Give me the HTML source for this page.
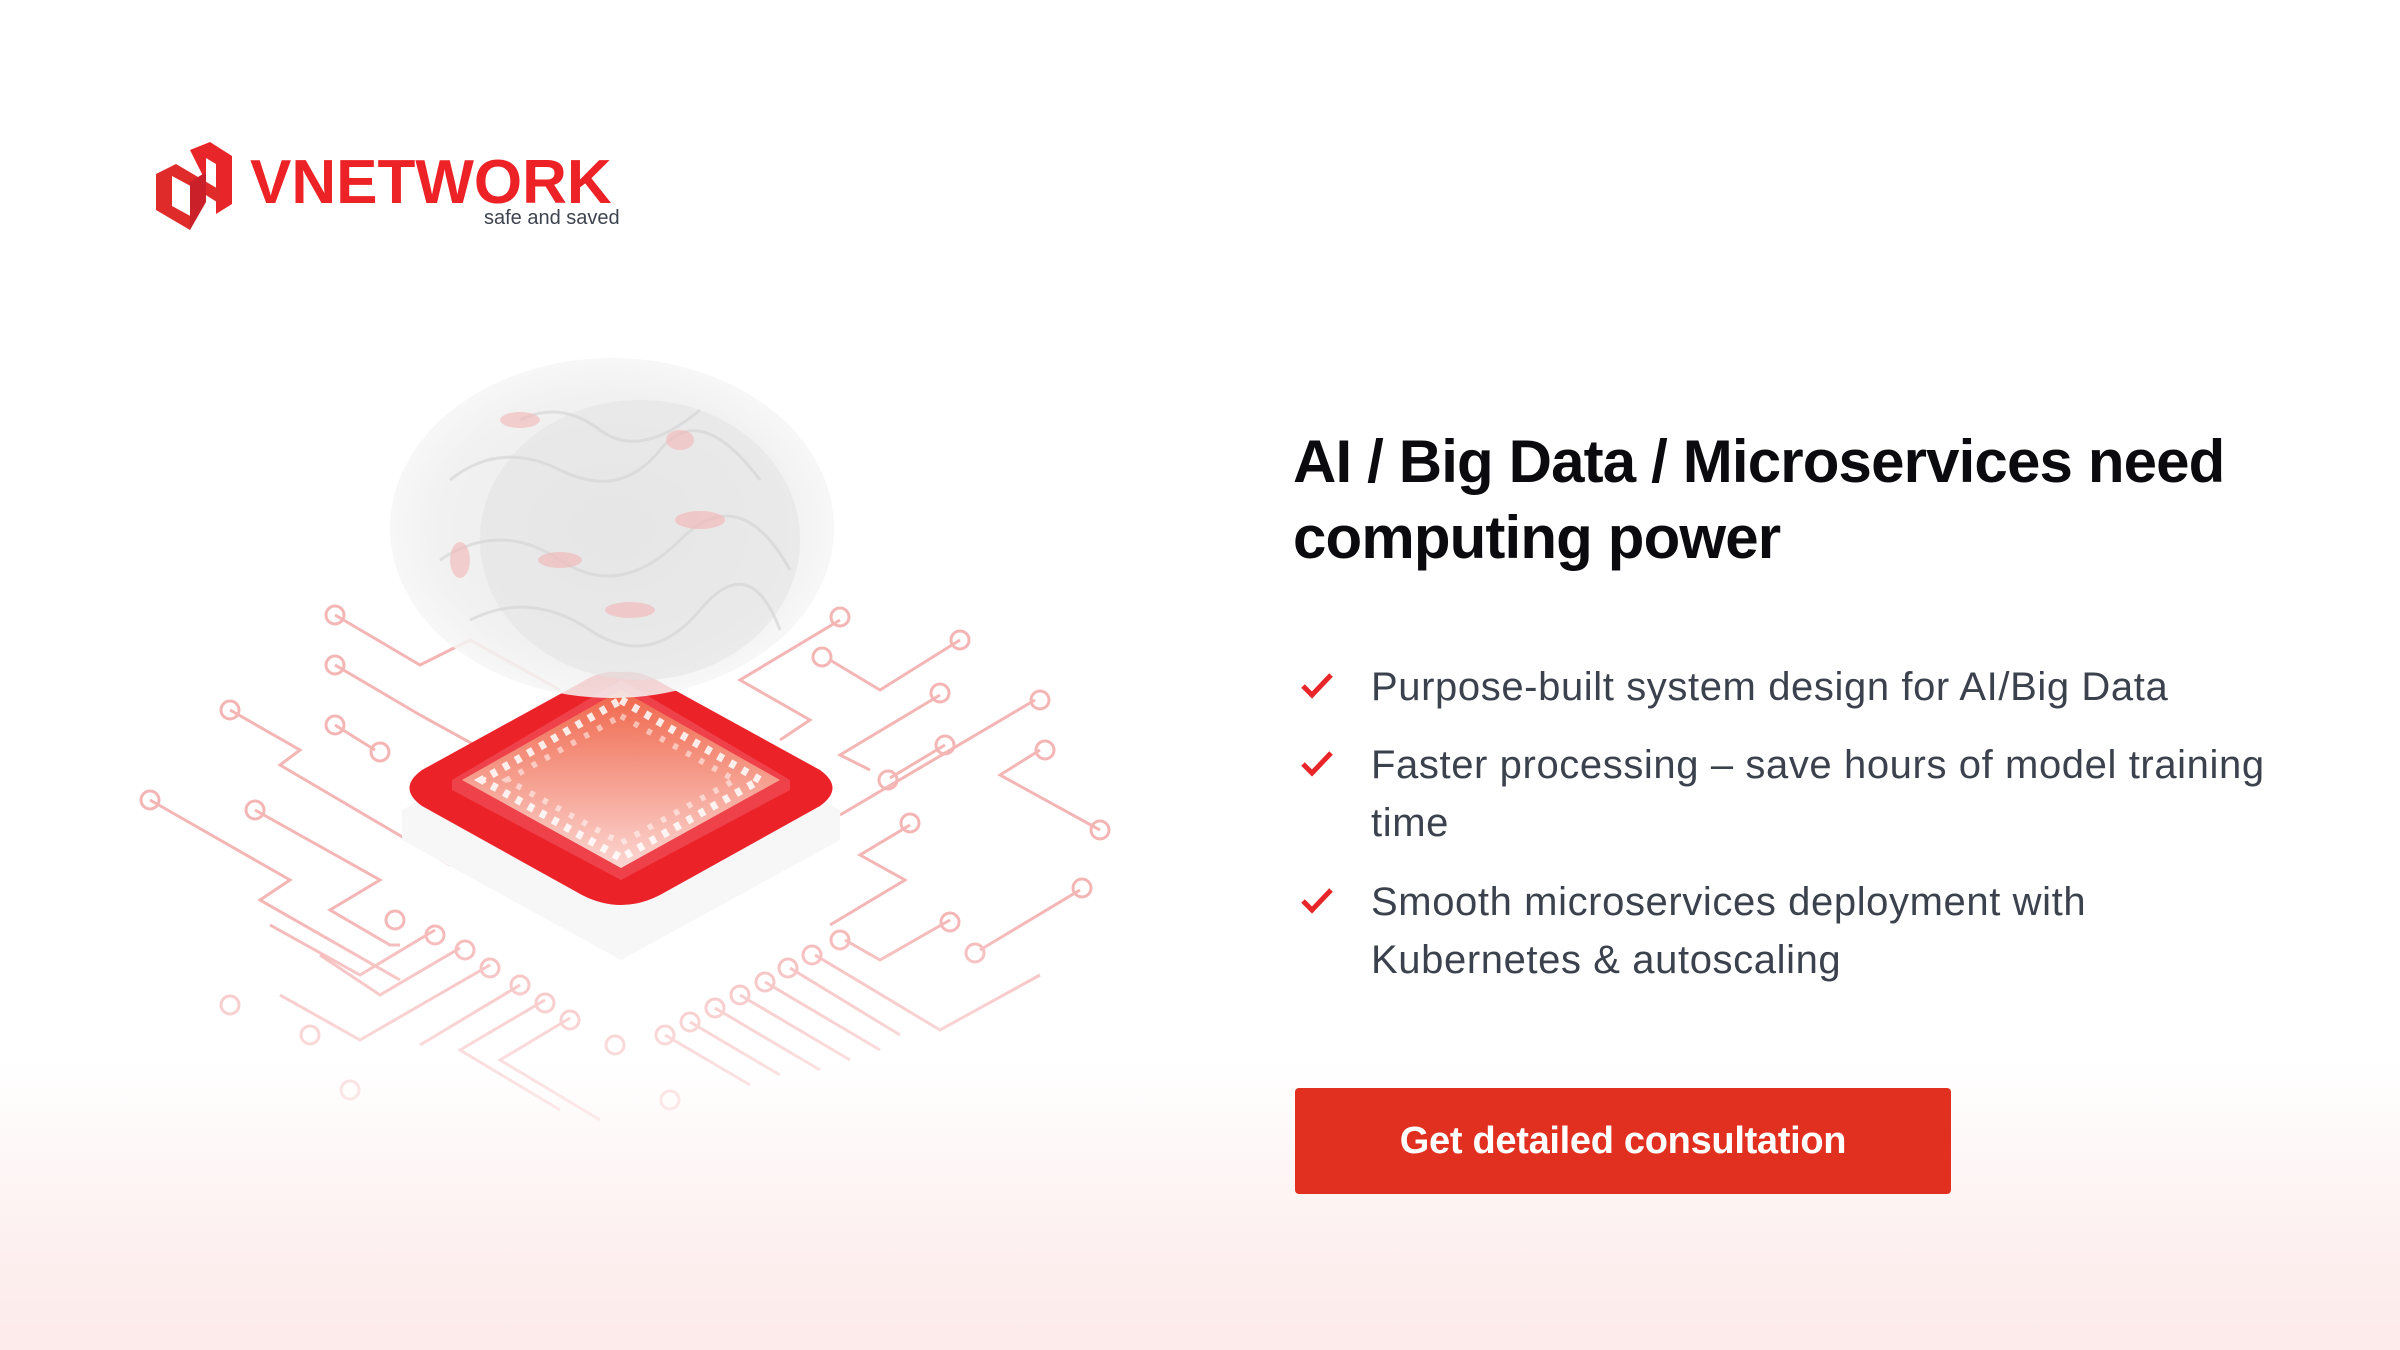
<!DOCTYPE html>
<html><head><meta charset="utf-8"><style>
html,body{margin:0;padding:0}
body{width:2400px;height:1350px;overflow:hidden;position:relative;font-family:"Liberation Sans",sans-serif;background:linear-gradient(180deg,#fff 0px,#fff 1060px,#fdf0f0 1240px,#fdeaea 1350px)}
.abs{position:absolute}
h1{position:absolute;left:1293px;top:424px;margin:0;font-size:60px;line-height:76px;font-weight:bold;color:#0b0b0f;letter-spacing:-0.85px;width:1100px}
.li{position:absolute;left:1371px;font-size:40px;line-height:58px;color:#3b414d;letter-spacing:0.6px;width:960px}
.ck{position:absolute;left:1300px}
.btn{position:absolute;left:1295px;top:1088px;width:656px;height:106px;background:#e1301f;border-radius:4px;color:#fff;font-weight:bold;font-size:38px;line-height:106px;text-align:center;letter-spacing:-0.3px}
</style></head><body>
<!-- logo -->
<svg class="abs" style="left:150px;top:142px" width="90" height="88" viewBox="0 0 90 88">
<path d="M40 8 L60 0 L82 14 L82 62 L66 72 L66 22 L56 16 L56 40 Z" fill="#e8262a"/>
<path d="M6 32 L26 22 L70 48 L70 62 L48 48 L22 34 L22 64 L44 76 L40 88 L6 68 Z" fill="#e02b2b"/>
<path d="M40 40 L56 30 L56 60 L40 88 Z" fill="#c9202a"/>
</svg>
<div class="abs" style="left:250px;top:150px;font-size:62px;font-weight:bold;color:#ec2227;letter-spacing:0px;line-height:66px">VNETWORK</div>
<div class="abs" style="left:484px;top:206px;font-size:20px;color:#3d4450;line-height:24px">safe and saved</div>

<!-- illustration -->
<svg class="abs" style="left:0;top:300px" width="1200" height="880" viewBox="0 300 1200 880">
<defs>
<linearGradient id="fadeg" x1="0" y1="0" x2="0" y2="1"><stop offset="0" stop-color="#fff"/><stop offset="0.7" stop-color="#fff"/><stop offset="1" stop-color="#fff" stop-opacity="0"/></linearGradient>
<mask id="fm" maskUnits="userSpaceOnUse" x="0" y="300" width="1200" height="880"><rect x="0" y="300" width="1200" height="880" fill="url(#fadeg)"/></mask>
<linearGradient id="top" x1="0" y1="0" x2="0" y2="1"><stop offset="0" stop-color="#f0664a"/><stop offset="1" stop-color="#fbd6d2"/></linearGradient>
<radialGradient id="brain" cx="0.5" cy="0.5" r="0.5"><stop offset="0" stop-color="#e6e6e6"/><stop offset="0.8" stop-color="#efefef"/><stop offset="1" stop-color="#f6f6f6"/></radialGradient>
</defs>
<g stroke="#f3a9a9" stroke-width="3" fill="none" opacity="0.85" mask="url(#fm)">
<path d="M335 615 L420 665 L470 640 L560 690"/><circle cx="335" cy="615" r="9"/>
<path d="M335 665 L420 715 L520 770"/><circle cx="335" cy="665" r="9"/>
<path d="M230 710 L300 750 L280 765 L450 865"/><circle cx="230" cy="710" r="9"/>
<path d="M335 725 L375 750"/><circle cx="335" cy="725" r="9"/><circle cx="380" cy="752" r="9"/>
<path d="M150 800 L290 880 L260 900 L400 980"/><circle cx="150" cy="800" r="9"/>
<path d="M255 810 L380 880 L330 910 L390 945 L400 945"/><circle cx="255" cy="810" r="9"/><circle cx="395" cy="920" r="9"/>
<path d="M435 930 L360 975 L270 925"/><circle cx="435" cy="935" r="9"/>
<path d="M460 948 L380 995 L320 955"/><circle cx="465" cy="950" r="9"/>
<path d="M490 965 L360 1040 L280 995"/><circle cx="490" cy="968" r="9"/>
<path d="M520 985 L420 1045"/><circle cx="520" cy="985" r="9"/>
<path d="M545 1000 L460 1050 L560 1110"/><circle cx="545" cy="1003" r="9"/>
<path d="M570 1018 L500 1060 L600 1120"/><circle cx="570" cy="1020" r="9"/>
<circle cx="310" cy="1035" r="9"/><circle cx="350" cy="1090" r="9"/><circle cx="230" cy="1005" r="9"/>
<path d="M840 620 L740 680 L810 720 L780 740"/><circle cx="840" cy="617" r="9"/>
<path d="M960 640 L880 690 L830 660"/><circle cx="960" cy="640" r="9"/><circle cx="822" cy="657" r="9"/>
<path d="M940 695 L840 755 L870 770"/><circle cx="940" cy="693" r="9"/>
<path d="M945 745 L890 778"/><circle cx="945" cy="745" r="9"/><circle cx="888" cy="780" r="9"/>
<path d="M1035 700 L840 815"/><circle cx="1040" cy="700" r="9"/>
<path d="M1040 750 L1000 775 L1100 830"/><circle cx="1045" cy="750" r="9"/><circle cx="1100" cy="830" r="9"/>
<path d="M910 825 L860 855 L905 880 L830 925"/><circle cx="910" cy="823" r="9"/>
<path d="M1080 890 L980 950"/><circle cx="1082" cy="888" r="9"/><circle cx="975" cy="953" r="9"/>
<path d="M950 920 L880 960 L845 940"/><circle cx="950" cy="922" r="9"/><circle cx="840" cy="940" r="9"/>
<path d="M815 955 L940 1030 L1040 975"/><circle cx="812" cy="955" r="9"/>
<path d="M790 968 L900 1035"/><circle cx="788" cy="968" r="9"/>
<path d="M765 982 L880 1050"/><circle cx="765" cy="982" r="9"/>
<path d="M740 995 L850 1060"/><circle cx="740" cy="995" r="9"/>
<path d="M715 1008 L820 1070"/><circle cx="715" cy="1008" r="9"/>
<path d="M690 1022 L780 1075"/><circle cx="690" cy="1022" r="9"/>
<path d="M665 1035 L750 1085"/><circle cx="665" cy="1035" r="9"/>
<circle cx="615" cy="1045" r="9"/><circle cx="670" cy="1100" r="9"/>
</g>
<!-- chip base -->
<path d="M621 690 L840 810 L840 840 L621 960 L402 840 L402 810 Z" fill="#f7f7f7"/>
<path d="M621 672 Q640 670 660 682 L820 770 Q845 788 820 806 L660 895 Q621 915 582 895 L422 806 Q397 788 422 770 L582 682 Q600 670 621 672 Z" fill="#ec2229"/>
<path d="M621 680 L790 780 L790 790 L621 880 L452 790 L452 780 Z" fill="#f04a52" opacity="0.8"/>
<path d="M621 690 L780 780 L621 868 L462 780 Z" fill="url(#top)"/>
<g fill="#fff" opacity="0.85">
<path d="M621 700 L760 780 L621 858 L482 780 Z" fill="none" stroke="#fff" stroke-width="8" stroke-dasharray="6 8"/>
<path d="M621 716 L735 780 L621 843 L507 780 Z" fill="none" stroke="#fff" stroke-width="6" stroke-dasharray="5 10" opacity="0.6"/>
</g>
<!-- brain -->
<ellipse cx="612" cy="528" rx="222" ry="170" fill="url(#brain)" opacity="0.85"/>
<ellipse cx="640" cy="540" rx="160" ry="140" fill="#e2e2e2" opacity="0.5"/>
<g fill="none" stroke="#d6d6d6" stroke-width="3" opacity="0.7">
<path d="M450 480 Q500 440 560 470 T660 450 T760 480"/>
<path d="M440 560 Q500 520 560 560 T680 540 T790 570"/>
<path d="M470 620 Q530 590 590 630 T700 610 T780 630"/>
<path d="M520 420 Q560 400 600 430 T700 410"/>
</g>
<g fill="#f4b5b5" opacity="0.6">
<ellipse cx="520" cy="420" rx="20" ry="8"/><ellipse cx="700" cy="520" rx="25" ry="9"/><ellipse cx="560" cy="560" rx="22" ry="8"/><ellipse cx="460" cy="560" rx="10" ry="18"/><ellipse cx="630" cy="610" rx="25" ry="8"/><ellipse cx="680" cy="440" rx="14" ry="10"/>
</g>
</svg>

<h1>AI / Big Data / Microservices need<br>computing power</h1>

<svg class="ck" style="top:672px" width="34" height="28" viewBox="0 0 34 28"><path d="M3 14 L12 23 L31 3" stroke="#e8262a" stroke-width="5" fill="none"/></svg>
<div class="li" style="top:658px">Purpose-built system design for AI/Big Data</div>
<svg class="ck" style="top:750px" width="34" height="28" viewBox="0 0 34 28"><path d="M3 14 L12 23 L31 3" stroke="#e8262a" stroke-width="5" fill="none"/></svg>
<div class="li" style="top:736px">Faster processing – save hours of model training<br>time</div>
<svg class="ck" style="top:887px" width="34" height="28" viewBox="0 0 34 28"><path d="M3 14 L12 23 L31 3" stroke="#e8262a" stroke-width="5" fill="none"/></svg>
<div class="li" style="top:873px">Smooth microservices deployment with<br>Kubernetes &amp; autoscaling</div>

<div class="btn">Get detailed consultation</div>
</body></html>
